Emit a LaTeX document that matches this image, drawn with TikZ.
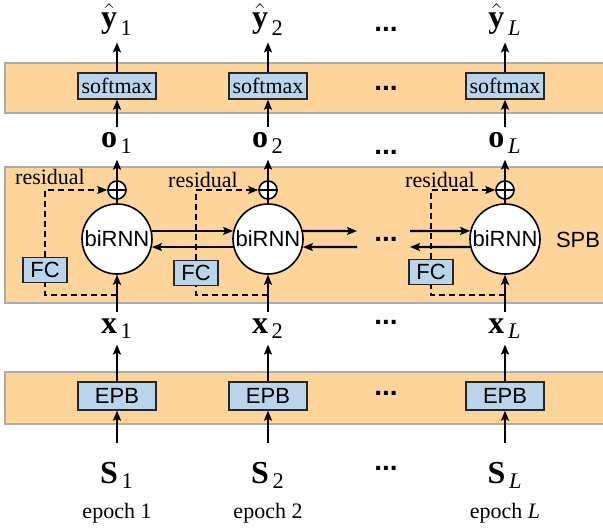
\documentclass[tikz,border=0pt]{standalone}
\usepackage{amsmath}
\usepackage{fontspec}
\setmainfont{Liberation Serif}
\setsansfont{Liberation Sans}
\usetikzlibrary{arrows.meta}

\definecolor{bandfill}{RGB}{253,213,155}
\definecolor{boxfill}{RGB}{186,213,235}

\tikzset{
  band/.style={draw=gray!65, line width=0.7pt, fill=bandfill},
  blockbox/.style={draw=black!85, line width=0.7pt, fill=boxfill, inner sep=0pt},
  rnnnode/.style={circle, draw, line width=0.8pt, fill=white, minimum size=35pt, inner sep=0pt, font=\sffamily\fontsize{11}{13}\selectfont},
  addnode/.style={circle, draw, line width=0.8pt, fill=white, minimum size=9pt, inner sep=0pt},
  vec/.style={inner sep=3pt, font=\fontsize{16}{18}\selectfont},
  txt/.style={font=\fontsize{11}{13}\selectfont},
  sftxt/.style={font=\sffamily\fontsize{11}{13}\selectfont},
  dots/.style={inner sep=1pt, font=\sffamily\bfseries\fontsize{14}{16}\selectfont},
  flow/.style={line width=1.1pt, -{Stealth[length=5pt,width=4pt,inset=1pt]}},
  res/.style={line width=0.7pt, dash pattern=on 3pt off 2pt},
}

\begin{document}
\begin{tikzpicture}[x=0.5pt, y=-0.5pt]
\useasboundingbox (0,0) rectangle (603,529);

% bands
\draw[band] (5,63) rectangle (612,113);
\draw[band] (5,167) rectangle (612,303);
\draw[band] (5,372) rectangle (612,424);
\node[sftxt] (spb) at (578,240) {SPB};

% one column per epoch
\foreach \i/\sub/\cx/\fx/\fy/\rx/\ry in {1/1/117/45/270/50/177, 2/2/268/196/273/203/180, L/\textit{L}/505/431/272/440/180}{
  \node[vec, anchor=base] (yh\i) at (\cx,28) {\(\hat{\textbf{y}}_{\,\text{\sub}}\)};
  \node[blockbox, txt, minimum width=39pt, minimum height=13pt] (sm\i) at (\cx,86) {softmax};
  \node[vec, anchor=base] (o\i) at (\cx,148) {\(\textbf{o}_{\,\text{\sub}}\)};
  \node[addnode] (add\i) at (\cx,190) {};
  \node[rnnnode] (rnn\i) at (\cx,239) {biRNN};
  \node[blockbox, sftxt, minimum width=22pt, minimum height=12.5pt] (fc\i) at (\fx,\fy) {FC};
  \node[txt] (res\i) at (\rx,\ry) {residual};
  \node[vec, anchor=base] (x\i) at (\cx,333) {\(\textbf{x}_{\,\text{\sub}}\)};
  \node[blockbox, sftxt, minimum width=39pt, minimum height=14pt] (epb\i) at (\cx,396) {EPB};
  \node[vec, anchor=base] (s\i) at (\cx,483) {\(\textbf{S}_{\,\text{\sub}}\)};
  \node[txt] (ep\i) at (\cx,513) {epoch \sub};
  \coordinate (j\i) at (\cx,295);
  % connectors
  \draw[flow] (sm\i.north) -- (yh\i.south);
  \draw[flow] (o\i.north) -- (sm\i.south);
  \draw[flow] (add\i.north) -- (o\i.south);
  \draw[line width=1.1pt] (rnn\i.north) -- (add\i.south);
  \draw[line width=0.8pt] (add\i.north) -- (add\i.south) (add\i.west) -- (add\i.east);
  \draw[flow] (x\i.north) -- (rnn\i.south);
  \draw[res] (j\i) -| (fc\i.south);
  \draw[res, -{Stealth[length=5pt,width=4pt,inset=1pt]}] (fc\i.north) |- (add\i.west);
  \draw[flow] (epb\i.north) -- (x\i.south);
  \draw[flow, shorten <=6pt] (s\i.north) -- (epb\i.south);
}

% dots between epoch 2 and epoch L
\foreach \dy in {29,88,152,239,322,393,468}
  \node[dots] (dot\dy) at (386,\dy) {...};

% recurrent links
\coordinate (ra) at (357,231);
\coordinate (la) at (357,247);
\coordinate (rb) at (410,231);
\coordinate (lb) at (410,247);
\draw[flow] (rnn1.13) -- (rnn2.167);
\draw[flow] (rnn2.193) -- (rnn1.-13);
\draw[flow] (rnn2.13) -- (ra);
\draw[flow] (la) -- (rnn2.-13);
\draw[flow] (rb) -- (rnnL.167);
\draw[flow] (rnnL.193) -- (lb);
\end{tikzpicture}
\end{document}
